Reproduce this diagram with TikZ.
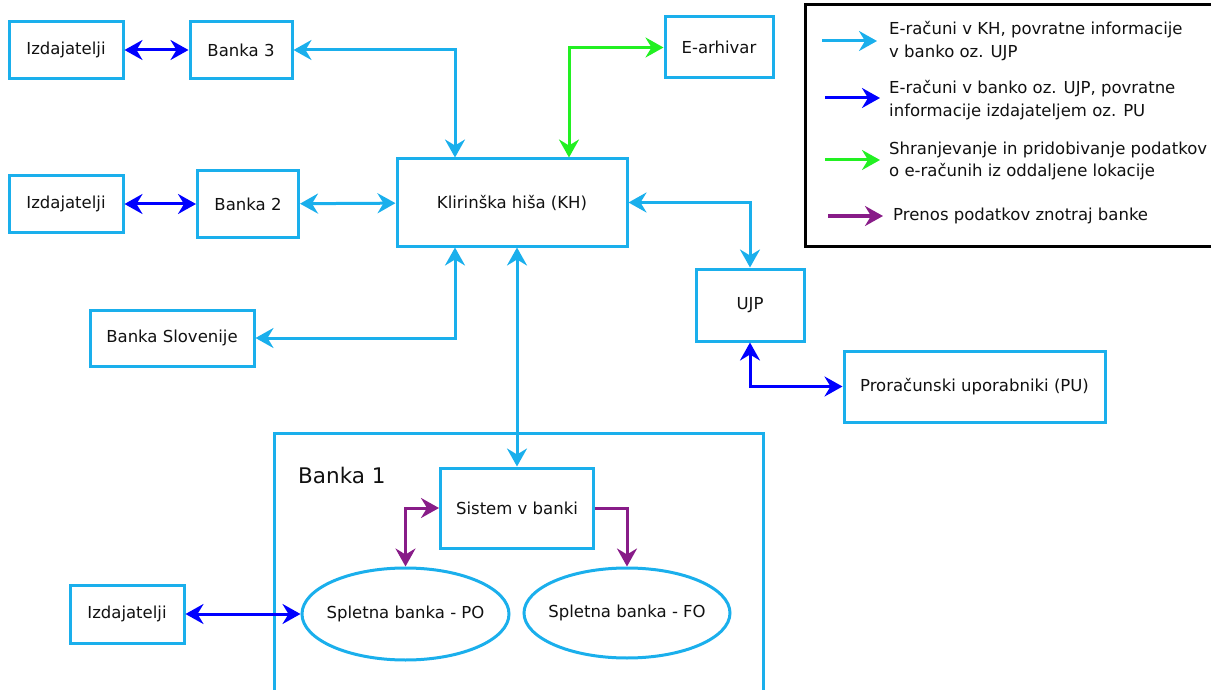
\documentclass[tikz,border=0pt]{standalone}
\usepackage{fontspec}
\setmainfont{DejaVu Sans}
\usetikzlibrary{positioning,arrows.meta,shapes.geometric}
\definecolor{sky}{HTML}{1AAFEC}
\definecolor{royal}{HTML}{0000FF}
\definecolor{lime}{HTML}{22F022}
\definecolor{plum}{HTML}{881C88}
\definecolor{ink}{HTML}{111111}
\tikzset{
  tip/.tip={Stealth[length=18pt,width=20pt,inset=6pt]},
  box/.style={draw=sky, line width=3pt, text=ink, inner sep=0pt,
              font=\fontsize{16.5}{20}\selectfont},
  oval/.style={box, ellipse},
  skylink/.style={draw=sky, line width=3pt},
  royallink/.style={draw=royal, line width=3pt},
  limelink/.style={draw=lime, line width=3pt},
  plumlink/.style={draw=plum, line width=3pt},
  legtext/.style={anchor=west, align=left, text=ink, inner sep=0pt,
                  font=\fontsize{16.5}{22.5}\selectfont}
}
\begin{document}
\begin{tikzpicture}[x=1pt,y=-1pt]
  \useasboundingbox (0,0) rectangle (1211,690);
  % nodes
  \node[box, minimum width=114pt, minimum height=57pt] (iz3) at (66,50) {Izdajatelji};
  \node[box, minimum width=102pt, minimum height=57pt] (b3) at (241,50) {Banka 3};
  \node[box, minimum width=114pt, minimum height=57pt] (iz2) at (66,204) {Izdajatelji};
  \node[box, minimum width=101pt, minimum height=67pt] (b2) at (248,204) {Banka 2};
  \node[box, minimum width=230pt, minimum height=87pt] (kh) at (512,202.5) {Klirinška hiša (KH)};
  \node[box, minimum width=108pt, minimum height=61pt] (arh) at (719,47.5) {E-arhivar};
  \node[box, minimum width=164pt, minimum height=56pt] (bslo) at (172,338) {Banka Slovenije};
  \node[box, minimum width=108pt, minimum height=72pt] (ujp) at (750,305) {UJP};
  \node[box, minimum width=261pt, minimum height=71pt] (pu) at (974.5,386.5) {Proračunski uporabniki (PU)};
  \draw[sky, line width=3pt] (274,700) -- (274,433) -- (763,433) -- (763,700);
  \node[text=ink, font=\fontsize{21.5}{24}\selectfont, anchor=west, inner sep=0pt] (b1) at (298,475) {Banka 1};
  \node[box, minimum width=153pt, minimum height=80pt] (sis) at (517,508) {Sistem v banki};
  \node[oval, minimum width=207pt, minimum height=92pt] (po) at (405.5,614) {\makebox[0pt]{Spletna banka - PO}};
  \node[oval, minimum width=206pt, minimum height=90pt] (fo) at (627,613) {\makebox[0pt]{Spletna banka - FO}};
  \node[box, minimum width=114pt, minimum height=58pt] (iz1) at (127,614) {Izdajatelji};
  % connectors
  \draw[royallink, tip-tip] (iz3) -- (b3);
  \draw[royallink, tip-tip] (iz2) -- (b2);
  \draw[royallink, tip-tip] (iz1) -- (po);
  \draw[royallink, tip-tip] (ujp.south) |- (pu.west);
  \draw[skylink, tip-tip] (b3.east) -| ([xshift=-57pt]kh.north);
  \draw[skylink, tip-tip] (b2) -- (kh);
  \draw[skylink, tip-tip] (bslo.east) -| ([xshift=-57pt]kh.south);
  \draw[skylink, tip-tip] (kh.east) -| (ujp.north);
  \draw[skylink, tip-tip] (sis.north |- kh.south) -- (sis.north);
  \draw[limelink, tip-tip] (arh.west) -| ([xshift=57pt]kh.north);
  \draw[plumlink, tip-tip] (sis.west) -| (po.north);
  \draw[plumlink, -tip] (sis.east) -| (fo.north);
  % legend
  \draw[black, line width=3pt] (1220,5) -- (805,5) -- (805,246.5) -- (1220,246.5);
  \coordinate (l1) at (822,41);
  \coordinate (l2) at (825,98);
  \coordinate (l3) at (825,160);
  \coordinate (l4) at (828,216);
  \draw[skylink, -tip] (l1) -- ++(55,0);
  \draw[royallink, -tip] (l2) -- ++(55,0);
  \draw[limelink, -tip] (l3) -- ++(55,0);
  \draw[plumlink, -tip] (l4) -- ++(55,0);
  \node[legtext] (t1) at (889,41) {E-računi v KH, povratne informacije\\v banko oz. UJP};
  \node[legtext] (t2) at (889,100) {E-računi v banko oz. UJP, povratne\\informacije izdajateljem oz. PU};
  \node[legtext] (t3) at (889,161) {Shranjevanje in pridobivanje podatkov\\o e-računih iz oddaljene lokacije};
  \node[legtext] (t4) at (893,216) {Prenos podatkov znotraj banke};
\end{tikzpicture}
\end{document}
